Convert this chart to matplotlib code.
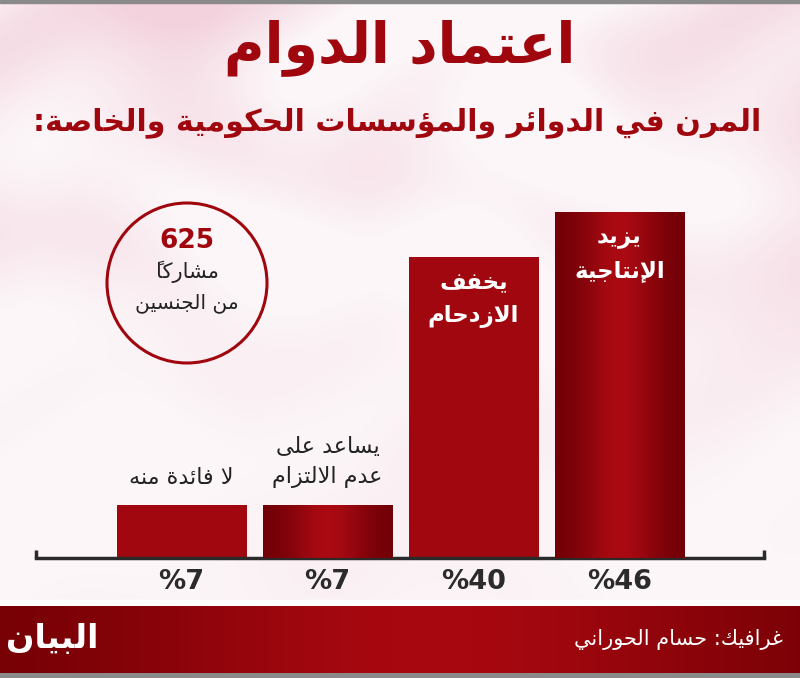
import numpy as np
import matplotlib.pyplot as plt
from matplotlib.patches import Rectangle, Circle

# Data
values = [7, 7, 40, 46]
labels = ["لا فائدة منه", "يساعد على\nعدم الالتزام", "يخفف\nالازدحام", "يزيد\nالإنتاجية"]
inside = [False, False, True, True]      # label drawn inside the bar
gradient = [False, True, False, True]    # bar drawn with a shaded gradient
title = "اعتماد الدوام"
subtitle = "المرن في الدوائر والمؤسسات الحكومية والخاصة:"
sample_size = "625"
sample_text = ["مشاركاً", "من الجنسين"]
credit = "غرافيك: حسام الحوراني"
logo = "البيان"

# Minimal Arabic shaping (matplotlib has no text shaping / bidi)
dual = {'ئ': 0xFE89, 'ب': 0xFE8F, 'ت': 0xFE95, 'ث': 0xFE99, 'ج': 0xFE9D, 'ح': 0xFEA1,
        'خ': 0xFEA5, 'س': 0xFEB1, 'ش': 0xFEB5, 'ص': 0xFEB9, 'ض': 0xFEBD, 'ط': 0xFEC1,
        'ظ': 0xFEC5, 'ع': 0xFEC9, 'غ': 0xFECD, 'ف': 0xFED1, 'ق': 0xFED5, 'ك': 0xFED9,
        'ل': 0xFEDD, 'م': 0xFEE1, 'ن': 0xFEE5, 'ه': 0xFEE9, 'ي': 0xFEF1}
right = {'آ': 0xFE81, 'أ': 0xFE83, 'ؤ': 0xFE85, 'إ': 0xFE87, 'ا': 0xFE8D, 'ة': 0xFE93,
         'د': 0xFEA9, 'ذ': 0xFEAB, 'ر': 0xFEAD, 'ز': 0xFEAF, 'و': 0xFEED, 'ى': 0xFEEF}
lamalef = {'آ': 0xFEF5, 'أ': 0xFEF7, 'إ': 0xFEF9, 'ا': 0xFEFB}


def shape_line(s):
    clusters = []
    for ch in s:
        if '\u064B' <= ch <= '\u0652' and clusters:
            clusters[-1][1] += ch
        else:
            clusters.append([ch, ''])
    merged = []
    i = 0
    while i < len(clusters):
        b, m = clusters[i]
        if b == 'ل' and i + 1 < len(clusters) and clusters[i + 1][0] in lamalef:
            merged.append(('LA' + clusters[i + 1][0], m + clusters[i + 1][1]))
            i += 2
        else:
            merged.append((b, m))
            i += 1

    def joins_right(b):
        return b in dual or b in right or b.startswith('LA')

    out = []
    for k, (b, m) in enumerate(merged):
        prev = merged[k - 1][0] if k > 0 else ''
        nxt = merged[k + 1][0] if k + 1 < len(merged) else ''
        p = prev in dual and joins_right(b)
        q = b in dual and joins_right(nxt)
        if b.startswith('LA'):
            g = chr(lamalef[b[2]] + (1 if p else 0))
        elif b in dual:
            g = chr(dual[b] + (3 if p and q else 2 if q else 1 if p else 0))
        elif b in right:
            g = chr(right[b] + (1 if p else 0))
        else:
            g = b
        out.append(m + g)   # mark first: its ink sits right of the pen
    return ''.join(reversed(out))


def ar(s):
    return '\n'.join(shape_line(line) for line in s.split('\n'))


plt.rcParams['font.family'] = ['DejaVu Sans']

W, H = 800, 678
fig = plt.figure(figsize=(W / 100, H / 100), dpi=100)

# background / decoration axes in pixel coordinates
bg = fig.add_axes([0, 0, 1, 1])
bg.set_xlim(0, W)
bg.set_ylim(H, 0)
bg.axis('off')

yy, xx = np.mgrid[0:H, 0:W]
blob = (np.sin(xx / 95.0 + 1.3 * np.sin(yy / 70.0)) * np.cos(yy / 55.0 + 0.8 * np.sin(xx / 60.0))
        + 0.6 * np.sin((xx + yy) / 130.0))
blob = np.clip((blob + 0.4) / 1.6, 0, 1)
fade = np.clip(1.15 - yy / 480.0, 0.15, 1)
pink = blob * fade
white = np.array([252, 246, 248]) / 255
rose = np.array([243, 210, 222]) / 255
tex = white + (rose - white) * pink[..., None]
bg.imshow(tex, extent=[0, W, H, 0], aspect='auto', zorder=0)

# top and bottom grey rules
bg.add_patch(Rectangle((0, 0), W, 3, color='#8a8a8a', zorder=1))
bg.add_patch(Rectangle((0, 673), W, 5, color='#8a8a8a', zorder=1))
bg.add_patch(Rectangle((0, 600), W, 6, color='white', zorder=1))

# footer band with horizontal shading
fx = np.linspace(0, 1, 400)
shade = np.exp(-((fx - 0.54) / 0.38) ** 2)
dark = np.array([112, 0, 4]) / 255
light = np.array([168, 8, 16]) / 255
band = dark + (light - dark) * shade[:, None]
bg.imshow(band[None, :, :], extent=[0, W, 673, 606], aspect='auto', zorder=1)

# titles
red = '#a0060d'
bg.text(400, 48, ar(title), color=red, fontsize=40, fontweight='bold',
        ha='center', va='center', zorder=3)
bg.text(397, 123, ar(subtitle), color=red, fontsize=21.6, fontweight='bold',
        ha='center', va='center', zorder=3)

# sample-size circle
bg.add_patch(Circle((187, 283), 80, facecolor='none', edgecolor=red, lw=2.2, zorder=3))
bg.text(187, 241, sample_size, color=red, fontsize=19, fontweight='bold',
        ha='center', va='center', zorder=3)
bg.text(187, 272, ar(sample_text[0]), color='#222222', fontsize=15,
        ha='center', va='center', zorder=3)
bg.text(187, 303, ar(sample_text[1]), color='#222222', fontsize=14.5,
        ha='center', va='center', zorder=3)

# footer texts
bg.text(52, 638, ar(logo), color='white', fontsize=24, fontweight='bold',
        ha='center', va='center', zorder=3)
bg.text(783, 640, ar(credit), color='white', fontsize=15,
        ha='right', va='center', zorder=3)

# bar chart axes
px_per_unit = 146.0
x0 = 181.5
ax_left, ax_right, base_y, top_y = 36, 764, 558, 182
ymax = 50
ax = fig.add_axes([ax_left / W, (H - base_y) / H, (ax_right - ax_left) / W, (base_y - top_y) / H])
ax.patch.set_alpha(0)
ax.set_xlim((ax_left - x0) / px_per_unit, (ax_right - x0) / px_per_unit)
ax.set_ylim(0, ymax)
for s in ['top', 'right', 'left']:
    ax.spines[s].set_visible(False)
ax.spines['bottom'].set_color('#2a2a2a')
ax.spines['bottom'].set_linewidth(2.5)
ax.set_xticks([])
ax.set_yticks([])
xlo, xhi = ax.get_xlim()
ax.vlines([xlo, xhi], 0, 1.1, color='#2a2a2a', lw=2.5, clip_on=False)

x = np.arange(len(values))
bw = 130 / px_per_unit
bars = ax.bar(x, values, width=bw, color='#a0070e', zorder=2)
gx = np.linspace(0, 1, 200)
gshade = np.exp(-((gx - 0.5) / 0.3) ** 2)
gdark = np.array([110, 0, 6]) / 255
glight = np.array([170, 10, 18]) / 255
grad = gdark + (glight - gdark) * gshade[:, None]
for b, g in zip(bars, gradient):
    if g:
        bx, by = b.get_x(), b.get_y()
        im = ax.imshow(grad[None, :, :], extent=[bx, bx + b.get_width(), by, by + b.get_height()],
                       aspect='auto', zorder=3)
        im.set_clip_path(b)
ax.set_xlim(xlo, xhi)
ax.set_ylim(0, ymax)

for xi, v, lab, ins in zip(x, values, labels, inside):
    ax.text(xi, -3.2, f"%{v}", color='#2b2b2b', fontsize=19.5, fontweight='bold',
            ha='center', va='center', clip_on=False)
    if ins:
        ax.text(xi, v - 1.9, ar(lab), color='white', fontsize=16.5, fontweight='bold',
                ha='center', va='top', linespacing=1.55, zorder=4)
    else:
        ax.text(xi, v + 2.3, ar(lab), color='#222222', fontsize=16, ha='center', va='bottom',
                linespacing=1.55, zorder=4)

fig.savefig('out.png', dpi=100)
